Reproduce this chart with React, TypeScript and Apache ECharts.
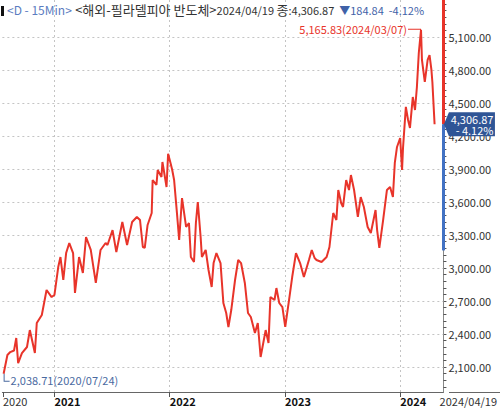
import React, { useEffect, useRef } from "react";
import * as echarts from "echarts";

const dates: string[] = [
  "2020-07-24","2020-08-05","2020-08-14","2020-08-26","2020-09-02","2020-09-08","2020-09-20","2020-10-06","2020-10-15","2020-10-31",
  "2020-11-06","2020-11-22","2020-12-07","2020-12-23","2021-01-01","2021-01-13","2021-01-20","2021-01-29","2021-02-07","2021-02-17",
  "2021-03-01","2021-03-07","2021-03-20","2021-04-01","2021-04-11","2021-04-26","2021-05-12","2021-05-27","2021-06-12","2021-06-18",
  "2021-07-04","2021-07-16","2021-08-04","2021-08-19","2021-09-04","2021-09-19","2021-09-29","2021-10-08","2021-10-14","2021-10-23",
  "2021-11-05","2021-11-08","2021-11-20","2021-11-24","2021-12-06","2021-12-09","2021-12-22","2021-12-27","2022-01-04","2022-01-09",
  "2022-01-15","2022-01-25","2022-01-31","2022-02-09","2022-02-22","2022-03-03","2022-03-09","2022-03-19","2022-03-25","2022-03-31",
  "2022-04-09","2022-04-13","2022-04-25","2022-05-04","2022-05-14","2022-05-20","2022-05-29","2022-06-11","2022-06-20","2022-06-29",
  "2022-07-06","2022-07-15","2022-07-27","2022-08-06","2022-08-15","2022-08-27","2022-09-06","2022-09-15","2022-09-28","2022-10-07",
  "2022-10-16","2022-10-22","2022-11-01","2022-11-10","2022-11-16","2022-11-29","2022-12-05","2022-12-14","2022-12-24","2023-01-02",
  "2023-01-14","2023-01-24","2023-02-05","2023-02-18","2023-03-02","2023-03-18","2023-03-27","2023-04-05","2023-04-11","2023-04-27",
  "2023-05-13","2023-05-22","2023-06-03","2023-06-13","2023-06-19","2023-06-28","2023-07-04","2023-07-14","2023-07-23","2023-07-29",
  "2023-08-08","2023-08-20","2023-08-29","2023-09-08","2023-09-20","2023-09-30","2023-10-15","2023-10-20","2023-10-27","2023-11-08",
  "2023-11-20","2023-11-30","2023-12-09","2023-12-15","2023-12-22","2024-01-01","2024-01-07","2024-01-10","2024-01-19","2024-01-26",
  "2024-02-01","2024-02-10","2024-02-17","2024-02-23","2024-02-29","2024-03-07","2024-03-10","2024-03-19","2024-03-28","2024-04-03",
  "2024-04-09","2024-04-12","2024-04-19"
];
const values: number[] = [
  2038.71,2209,2236,2250,2364,2136,2227,2282,2436,2227,
  2500,2573,2800,2736,2755,3009,3100,2891,3136,3227,
  3136,2773,3100,2955,3282,3164,2864,3164,3227,3209,
  3345,3145,3418,3209,3418,3464,3436,3191,3182,3391,
  3500,3800,3755,3891,3827,3964,3736,4039,3950,3891,
  3800,3464,3255,3636,3373,3409,3100,3055,3409,3600,
  3282,3100,3164,2982,2827,3045,3136,3045,2682,2591,
  2464,2618,2891,3073,3045,2864,2591,2555,2409,2500,
  2191,2282,2436,2318,2736,2709,2818,2682,2645,2464,
  2709,2918,3136,3045,2918,3073,3164,3091,3073,3055,
  3100,3191,3500,3436,3709,3591,3555,3800,3709,3845,
  3709,3464,3645,3555,3373,3318,3527,3345,3182,3436,
  3709,3736,3645,3955,4100,4182,3891,4091,4464,4345,
  4273,4554,4436,4645,4954,5165.83,4891,4691,4891,4936,
  4800,4691,4306.87
];

const yearStarts: string[] = ["2021-01-01", "2022-01-01", "2023-01-01", "2024-01-01"];
const priceLevels: number[] = [2100, 2400, 2700, 3000, 3300, 3600, 3900, 4200, 4500, 4800, 5100];
const minorStep = 60;
const axisStart = "2020-07-20";
const axisEnd = "2024-05-17";
const yMin = 1873;
const yMax = 5436;
const lastDate = "2024-04-19";
const lastClose = 4306.87;
const changeAbs = 184.84;
const changePct = -4.12;
const rangeLow = 3160;
const hiDate = "2024-03-07";
const hiValue = 5165.83;
const loDate = "2020-07-24";
const loValue = 2038.71;

const FONT = "'Noto Sans CJK KR', 'Noto Sans', sans-serif";
const RED = "#e8342a";
const BLUE = "#2f5596";
const DAY = 86400000;

const ts = (s: string) => {
  const [y, m, d] = s.split("-").map(Number);
  return Date.UTC(y, m - 1, d) / DAY;
};
const yearOf = (v: number) => new Date(v * DAY).getUTCFullYear();
const fmt = (v: number) =>
  v.toLocaleString("en-US", { minimumFractionDigits: 2, maximumFractionDigits: 2 });
const slash = (s: string) => s.replace(/-/g, "/");

export default function App() {
  const ref = useRef<HTMLDivElement>(null);
  useEffect(() => {
    if (!ref.current) return;
    const chart = echarts.init(ref.current, null, { renderer: "svg" });
    const xStart = ts(axisStart);
    const xEnd = ts(axisEnd);
    const xLast = ts(lastDate);
    const minorTicks: number[] = [];
    for (let v = 1920; v <= yMax; v += minorStep) minorTicks.push(v);
    const dashed = { type: [2, 3] as any, color: "#c4c4c4", width: 1 };

    chart.setOption({
      animation: false,
      grid: { left: 0, right: 51, top: 0, bottom: 17, containLabel: false },
      xAxis: {
        type: "value",
        min: xStart,
        max: xEnd,
        axisLine: { show: true, lineStyle: { color: "#666", width: 1 } },
        axisTick: {
          show: true,
          length: 5,
          lineStyle: { color: "#555" },
          customValues: [xStart + 2, ...yearStarts.map(ts)],
        },
        splitLine: { show: false },
        axisLabel: {
          customValues: [xStart + 2, ...yearStarts.map(ts), xLast],
          align: "left",
          margin: 2,
          formatter: (val: number) => {
            if (val === xLast) return "{e|" + slash(lastDate) + "}";
            if (val < ts(yearStarts[0])) return "{n|" + yearOf(val) + "}";
            return "{b|" + yearOf(val) + "}";
          },
          rich: {
            n: { fontSize: 11, color: "#333", fontFamily: FONT, lineHeight: 13 },
            e: { fontSize: 11, color: "#333", fontFamily: FONT, lineHeight: 13, padding: [0, 0, 0, 5] },
            b: { fontSize: 11, fontWeight: "bold", color: "#111", fontFamily: FONT, lineHeight: 13 },
          },
        },
      },
      yAxis: {
        type: "value",
        position: "right",
        min: yMin,
        max: yMax,
        axisLine: { show: true, lineStyle: { color: "#888", width: 1 } },
        axisTick: {
          show: true,
          length: 3,
          lineStyle: { color: "#555" },
          customValues: minorTicks,
        },
        splitLine: { show: false },
        axisLabel: {
          customValues: priceLevels,
          margin: 5,
          fontSize: 11,
          color: "#333",
          fontFamily: FONT,
          formatter: (v: number) => fmt(v),
        },
      },
      series: [
        {
          type: "line",
          data: dates.map((d, i) => [ts(d), values[i]]),
          showSymbol: false,
          symbol: "none",
          clip: false,
          lineStyle: { color: RED, width: 2 },
          z: 3,
          markLine: {
            silent: true,
            symbol: ["none", "none"],
            label: { show: false },
            z: 1,
            data: [
              ...yearStarts.map((d) => ({ xAxis: ts(d), lineStyle: dashed })),
              ...priceLevels.map((v) => ({ yAxis: v, lineStyle: dashed })),
              [
                { coord: [xEnd, yMax], lineStyle: { color: RED, width: 3, type: "solid" } },
                { coord: [xEnd, lastClose] },
              ],
              [
                { coord: [xEnd, lastClose], lineStyle: { color: "#4272c4", width: 3, type: "solid" } },
                { coord: [xEnd, rangeLow] },
              ],
            ],
          },
          markPoint: {
            silent: true,
            z: 10,
            data: [
              {
                coord: [ts(hiDate), hiValue],
                symbol: "path://M0,0 L13,0 L13,5 L12,5 L12,1 L0,1 Z",
                symbolSize: [13, 5],
                symbolOffset: [-6.5, 1.5],
                itemStyle: { color: RED },
                label: {
                  show: true,
                  position: "left",
                  distance: 1,
                  offset: [0, -2],
                  formatter: fmt(hiValue) + "(" + slash(hiDate) + ")",
                  color: RED,
                  fontSize: 11,
                  fontFamily: FONT,
                },
              },
              {
                coord: [ts(loDate), loValue],
                symbol: "path://M0,0 L1,0 L1,7 L6,7 L6,8 L0,8 Z",
                symbolSize: [6, 8],
                symbolOffset: [3, 4],
                itemStyle: { color: "#4a6a9f" },
                label: {
                  show: true,
                  position: "right",
                  distance: 1,
                  offset: [0, 2],
                  formatter: fmt(loValue) + "(" + slash(loDate) + ")",
                  color: "#4a6a9f",
                  fontSize: 11,
                  fontFamily: FONT,
                },
              },
              {
                coord: [xEnd, lastClose],
                symbol: "path://M0,12 L5,0 L51,0 L51,24 L5,24 Z",
                symbolSize: [51, 24],
                symbolKeepAspect: false,
                symbolOffset: [26, 0],
                itemStyle: { color: BLUE },
                label: {
                  show: true,
                  position: "inside",
                  offset: [2, 0],
                  formatter: "{v|" + fmt(lastClose) + "}\n{v| - " + Math.abs(changePct).toFixed(2) + "%}",
                  rich: {
                    v: { color: "#fff", fontSize: 11, lineHeight: 11, fontFamily: FONT, align: "right", width: 44 },
                  },
                },
              },
            ],
          },
        },
      ],
      graphic: [
        {
          type: "line",
          silent: true,
          shape: { x1: 449, y1: 392.5, x2: 500, y2: 392.5 },
          style: { stroke: "#666", lineWidth: 1 },
        },
        { type: "rect", left: 1, top: 6, shape: { width: 3, height: 10 }, style: { fill: "#111" } },
        {
          type: "text",
          left: 7,
          top: 3,
          z: 20,
          style: {
            text:
              "{a|<D - 15Min>} {k|<해외-필라델피아 반도체>}{n|" +
              slash(lastDate) +
              " }{k|종}{n|:" +
              fmt(lastClose) +
              "  }{d|▼" +
              fmt(changeAbs) +
              "  " +
              changePct.toFixed(2) +
              "%}",
            rich: {
              a: { fill: "#5b7cc0", fontSize: 12, fontFamily: FONT },
              k: { fill: "#333", fontSize: 13, fontFamily: FONT },
              n: { fill: "#333", fontSize: 11, fontFamily: FONT },
              d: { fill: "#3f62a8", fontSize: 11, fontFamily: FONT },
            },
          },
        },
      ],
    });
    return () => chart.dispose();
  }, []);
  return <div ref={ref} style={{ width: 500, height: 409, position: "absolute", left: 0, top: 0 }} />;
}
